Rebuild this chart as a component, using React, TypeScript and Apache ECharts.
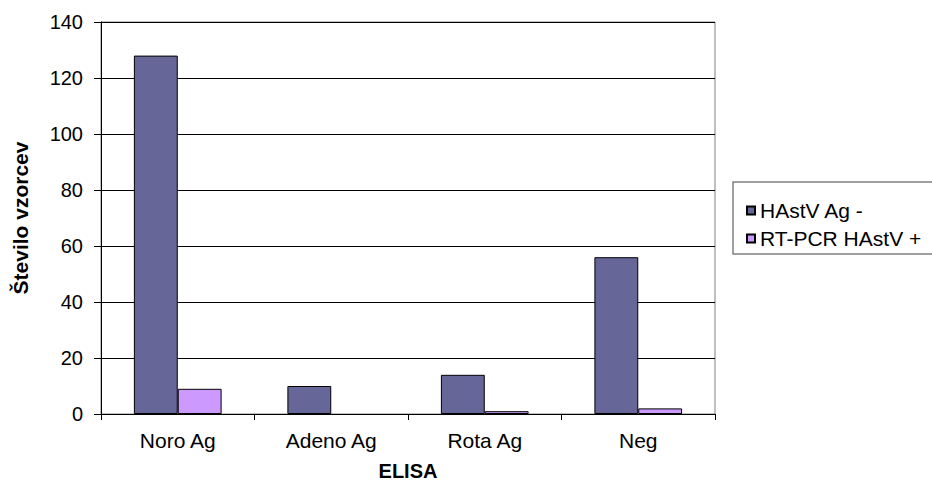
import React, { useEffect, useRef } from "react";
import * as echarts from "echarts";

// ELISA result groups on the category axis
const categories = ["Noro Ag", "Adeno Ag", "Rota Ag", "Neg"];
// Sample counts per group
const hastvAgNegative = [128, 10, 14, 56];
const rtPcrHastvPositive = [9, 0, 1, 2];
const seriesNames = ["HAstV Ag -", "RT-PCR HAstV +"];

const FONT = "'Liberation Sans', Arial, sans-serif";

// Zero-height bars get no outline so they don't leave a stray line on the axis
const toBarData = (values: number[]) =>
  values.map((v) => ({ value: v, itemStyle: v === 0 ? { borderWidth: 0 } : {} }));

export default function App() {
  const ref = useRef<HTMLDivElement>(null);

  useEffect(() => {
    if (!ref.current) return;
    const chart = echarts.init(ref.current, undefined, { renderer: "svg" });
    chart.setOption({
      animation: false,
      backgroundColor: "#ffffff",
      textStyle: { fontFamily: FONT },
      grid: {
        left: 101,
        top: 22,
        width: 614,
        height: 392,
        show: true,
        borderColor: "#808080",
        borderWidth: 1,
        containLabel: false,
      },
      graphic: [
        {
          type: "rect",
          shape: { x: 733, y: 182, width: 230, height: 72 },
          style: { fill: "none", stroke: "#808080", lineWidth: 1.5 },
          z: 0,
        },
      ],
      legend: {
        orient: "vertical",
        left: 741,
        top: 195,
        itemWidth: 8,
        itemHeight: 8,
        itemGap: 7,
        icon: "rect",
        data: seriesNames,
        textStyle: { fontFamily: FONT, fontSize: 21, color: "#000" },
      },
      xAxis: {
        type: "category",
        data: categories,
        name: "ELISA",
        nameLocation: "middle",
        nameGap: 47,
        nameTextStyle: { fontFamily: FONT, fontSize: 20, fontWeight: "bold", color: "#000" },
        axisLine: { show: true, lineStyle: { color: "#000", width: 1 } },
        axisTick: { show: true, length: 6, lineStyle: { color: "#000" } },
        axisLabel: { fontFamily: FONT, fontSize: 21, color: "#000", margin: 16 },
      },
      yAxis: {
        type: "value",
        min: 0,
        max: 140,
        interval: 20,
        name: "Število vzorcev",
        nameLocation: "middle",
        nameGap: 70,
        nameRotate: 90,
        nameTextStyle: { fontFamily: FONT, fontSize: 21, fontWeight: "bold", color: "#000" },
        axisLine: { show: true, lineStyle: { color: "#000", width: 1 } },
        axisTick: { show: true, length: 7, lineStyle: { color: "#000" } },
        axisLabel: { fontFamily: FONT, fontSize: 20, color: "#000", margin: 18 },
        splitLine: { show: true, lineStyle: { color: "#000", width: 1 } },
      },
      series: [
        {
          name: seriesNames[0],
          type: "bar",
          data: toBarData(hastvAgNegative),
          barGap: "0%",
          barCategoryGap: "42.86%",
          itemStyle: { color: "#666699", borderColor: "#000", borderWidth: 1 },
        },
        {
          name: seriesNames[1],
          type: "bar",
          data: toBarData(rtPcrHastvPositive),
          barGap: "0%",
          barCategoryGap: "42.86%",
          itemStyle: { color: "#CC99FF", borderColor: "#000", borderWidth: 1 },
        },
      ],
    });
    return () => chart.dispose();
  }, []);

  return (
    <div
      ref={ref}
      style={{ position: "fixed", left: 0, top: 0, width: 932, height: 495 }}
    />
  );
}
